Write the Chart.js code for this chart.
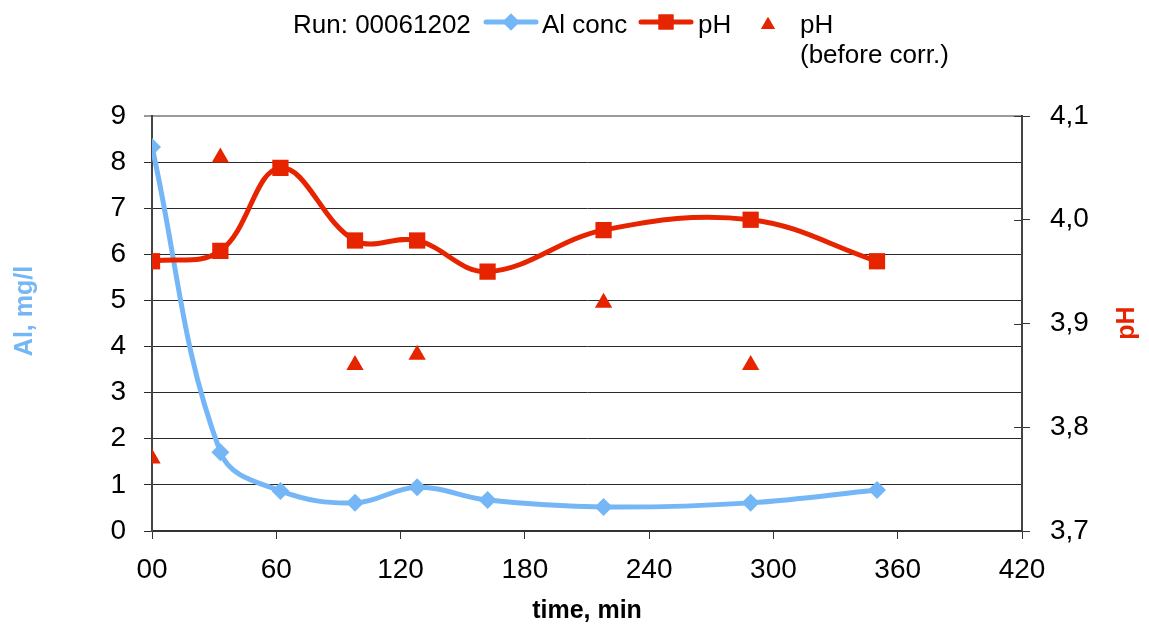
<!DOCTYPE html>
<html>
<head>
<meta charset="utf-8">
<title>Run 00061202</title>
<script src="https://cdn.jsdelivr.net/npm/chart.js@4/dist/chart.umd.min.js"></script>
<style>
  html, body { margin: 0; padding: 0; background: #ffffff; }
  #wrap { width: 1149px; height: 626px; position: relative; }
</style>
</head>
<body>
<div id="wrap"><canvas id="chart" width="1149" height="626"></canvas></div>
<script>
// Sampling times, minutes
const timeMin = [0, 33, 62, 98, 128, 162, 218, 289, 350];
// Aluminium concentration, mg/l
const alConc = [8.33, 1.71, 0.87, 0.61, 0.95, 0.67, 0.52, 0.61, 0.89];
// pH after correction
const phValues = [3.96, 3.97, 4.05, 3.98, 3.98, 3.95, 3.99, 4.00, 3.96];
// pH before correction (measured only at some samples)
const phBeforeTime = [0, 33, 98, 128, 218, 289];
const phBeforeValues = [3.77, 4.06, 3.86, 3.87, 3.92, 3.86];

// Axis ranges and labels
const xTicks = [0, 60, 120, 180, 240, 300, 360, 420];
const alTicks = [0, 1, 2, 3, 4, 5, 6, 7, 8, 9];
const phTicks = [3.7, 3.8, 3.9, 4.0, 4.1];
const runLabel = 'Run: 00061202';
const seriesNames = ['Al conc', 'pH', 'pH', '(before corr.)'];
const axisTitles = { x: 'time, min', al: 'Al, mg/l', ph: 'pH' };

const BLUE = '#75B7F6';
const RED = '#E62400';
const FONT = '"Liberation Sans", Arial, sans-serif';

const toPoints = (xs, ys) => xs.map((x, i) => ({ x, y: ys[i] }));

// Legend row across the top
const topLegend = {
  id: 'topLegend',
  afterDraw(chart) {
    const ctx = chart.ctx;
    const drawPoint = Chart.helpers.drawPoint;
    ctx.save();
    ctx.font = '26px ' + FONT;
    ctx.fillStyle = '#000';
    ctx.textBaseline = 'alphabetic';
    ctx.textAlign = 'left';
    ctx.fillText(runLabel, 293, 33);

    ctx.lineCap = 'round';
    ctx.lineWidth = 5;
    ctx.strokeStyle = BLUE;
    ctx.beginPath(); ctx.moveTo(486, 22); ctx.lineTo(536, 22); ctx.stroke();
    ctx.fillStyle = BLUE;
    drawPoint(ctx, { pointStyle: 'rectRot', radius: 8.5, rotation: 0, borderWidth: 0 }, 511, 22);
    ctx.fill();
    ctx.fillStyle = '#000';
    ctx.fillText(seriesNames[0], 542, 33);

    ctx.strokeStyle = RED;
    ctx.beginPath(); ctx.moveTo(641, 22); ctx.lineTo(691, 22); ctx.stroke();
    ctx.fillStyle = RED;
    drawPoint(ctx, { pointStyle: 'rect', radius: 10.6, rotation: 0, borderWidth: 0 }, 666, 22);
    ctx.fill();
    ctx.fillStyle = '#000';
    ctx.fillText(seriesNames[1], 698, 33);

    ctx.fillStyle = RED;
    drawPoint(ctx, { pointStyle: 'triangle', radius: 8, rotation: 0, borderWidth: 0 }, 768, 25);
    ctx.fill();
    ctx.fillStyle = '#000';
    ctx.fillText(seriesNames[2], 800, 33);
    ctx.fillText(seriesNames[3], 800, 63);
    ctx.restore();
  }
};

// Tick marks on the right axis cross the axis line; vertical axis titles read bottom-to-top
const axisExtras = {
  id: 'axisExtras',
  afterDraw(chart) {
    const s = chart.scales.y1;
    const ctx = chart.ctx;
    ctx.save();
    ctx.strokeStyle = '#333';
    ctx.lineWidth = 1;
    s.ticks.forEach(t => {
      const y = Math.round(s.getPixelForValue(t.value)) + 0.5;
      ctx.beginPath();
      ctx.moveTo(s.left - 8, y);
      ctx.lineTo(s.left, y);
      ctx.stroke();
    });

    ctx.font = 'bold 25px ' + FONT;
    ctx.textAlign = 'center';
    ctx.textBaseline = 'middle';

    ctx.save();
    ctx.translate(25, 311);
    ctx.rotate(-Math.PI / 2);
    ctx.fillStyle = BLUE;
    ctx.fillText(axisTitles.al, 0, 0);
    ctx.restore();

    ctx.save();
    ctx.translate(1127, 323);
    ctx.rotate(-Math.PI / 2);
    ctx.fillStyle = RED;
    ctx.fillText(axisTitles.ph, 0, 0);
    ctx.restore();

    ctx.restore();
  }
};

new Chart(document.getElementById('chart'), {
  data: {
    datasets: [
      {
        type: 'scatter',
        label: 'pH (before corr.)',
        data: toPoints(phBeforeTime, phBeforeValues),
        yAxisID: 'y1',
        showLine: false,
        pointStyle: 'triangle',
        pointRadius: 10,
        pointBackgroundColor: RED,
        pointBorderWidth: 0,
        order: 0
      },
      {
        type: 'line',
        label: 'pH',
        data: toPoints(timeMin, phValues),
        yAxisID: 'y1',
        borderColor: RED,
        borderWidth: 5,
        tension: 0.38,
        pointStyle: 'rect',
        pointRadius: 11.5,
        pointBackgroundColor: RED,
        pointBorderWidth: 0,
        fill: false,
        order: 1
      },
      {
        type: 'line',
        label: 'Al conc',
        data: toPoints(timeMin, alConc),
        yAxisID: 'y',
        borderColor: BLUE,
        borderWidth: 5,
        tension: 0.38,
        pointStyle: 'rectRot',
        pointRadius: 9,
        pointBackgroundColor: BLUE,
        pointBorderWidth: 0,
        fill: false,
        order: 2
      }
    ]
  },
  options: {
    responsive: false,
    animation: false,
    layout: { padding: { top: 116, left: 0, right: 0, bottom: 0 } },
    plugins: {
      legend: { display: false },
      tooltip: { enabled: false }
    },
    scales: {
      x: {
        type: 'linear',
        min: 0,
        max: 420,
        afterBuildTicks: s => { s.ticks = xTicks.map(v => ({ value: v })); },
        afterFit: s => { s.height = 95; },
        ticks: {
          callback: v => (v === 0 ? '00' : String(v)),
          font: { family: FONT, size: 28 },
          color: '#000',
          padding: 14,
          maxRotation: 0
        },
        grid: { drawOnChartArea: false, drawTicks: true, tickLength: 8, color: '#333', lineWidth: 1 },
        border: { display: true, color: '#333', width: 2 },
        title: {
          display: true,
          text: axisTitles.x,
          font: { family: FONT, size: 25, weight: 'bold' },
          color: '#000',
          padding: { top: 0, bottom: 0 }
        }
      },
      y: {
        type: 'linear',
        position: 'left',
        min: 0,
        max: 9,
        afterBuildTicks: s => { s.ticks = alTicks.map(v => ({ value: v })); },
        afterFit: s => { s.width = 152; },
        ticks: {
          font: { family: FONT, size: 28 },
          color: '#000',
          padding: 18
        },
        grid: {
          color: c => (c.tick && c.tick.value === 9 ? '#9a9a9a' : '#2a2a2a'),
          lineWidth: c => (c.tick && c.tick.value === 9 ? 2 : 1),
          tickLength: 8,
          drawTicks: true
        },
        border: { display: true, color: '#444', width: 2 },
        title: { display: false }
      },
      y1: {
        type: 'linear',
        position: 'right',
        min: 3.7,
        max: 4.1,
        afterBuildTicks: s => { s.ticks = phTicks.map(v => ({ value: v })); },
        afterFit: s => { s.width = 127; },
        ticks: {
          callback: v => v.toFixed(1).replace('.', ','),
          font: { family: FONT, size: 28 },
          color: '#000',
          padding: 20
        },
        grid: { drawOnChartArea: false, drawTicks: true, tickLength: 8, color: '#333', lineWidth: 1 },
        border: { display: true, color: '#444', width: 2 },
        title: { display: false }
      }
    }
  },
  plugins: [topLegend, axisExtras]
});
</script>
</body>
</html>
